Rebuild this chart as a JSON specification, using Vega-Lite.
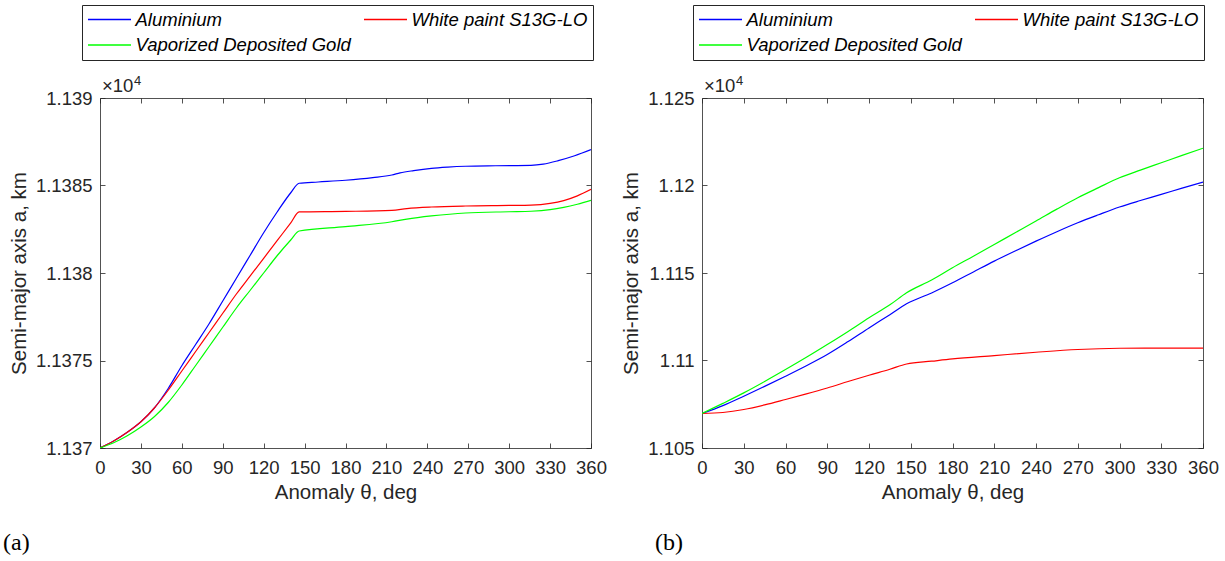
{
  "$schema": "https://vega.github.io/schema/vega-lite/v6.json",
  "autosize": {"type": "pad"},
  "padding": {"left": 3, "top": 4, "right": 5, "bottom": 5},
  "background": "white",
  "config": {
    "font": "Liberation Sans",
    "view": {"stroke": null},
    "axis": {
      "labelFont": "Liberation Sans", "labelFontSize": 18.5, "labelColor": "#262626", "labelOverlap": false, "labelFlush": false,
      "titleFont": "Liberation Sans", "titleFontSize": 20.5, "titleFontWeight": "normal", "titleColor": "#262626",
      "domainColor": "#262626", "tickColor": "#262626", "tickSize": -5, "grid": false,
      "domainWidth": 0.8, "tickWidth": 0.8
    },
    "legend": {
      "orient": "none", "columns": 2, "direction": "horizontal", "title": null,
      "symbolType": "stroke", "symbolSize": 1849, "symbolStrokeWidth": 1.3,
      "labelFont": "Liberation Sans", "labelFontSize": 18.5, "labelFontStyle": "italic", "labelColor": "black",
      "labelLimit": 400, "labelOffset": 3.5, "columnPadding": 12, "rowPadding": 6.5, "clipHeight": 19,
      "padding": 5, "strokeColor": "#262626", "fillColor": "white"
    }
  },
  "datasets": {
    "a": [
      {"theta": 0, "a": 1.137, "material": "Aluminium"},
      {"theta": 10, "a": 1.13704, "material": "Aluminium"},
      {"theta": 20, "a": 1.13709, "material": "Aluminium"},
      {"theta": 30, "a": 1.13715, "material": "Aluminium"},
      {"theta": 40, "a": 1.13723, "material": "Aluminium"},
      {"theta": 50, "a": 1.13734, "material": "Aluminium"},
      {"theta": 60, "a": 1.13747, "material": "Aluminium"},
      {"theta": 70, "a": 1.13759, "material": "Aluminium"},
      {"theta": 80, "a": 1.13771, "material": "Aluminium"},
      {"theta": 90, "a": 1.13784, "material": "Aluminium"},
      {"theta": 100, "a": 1.13797, "material": "Aluminium"},
      {"theta": 110, "a": 1.1381, "material": "Aluminium"},
      {"theta": 120, "a": 1.13823, "material": "Aluminium"},
      {"theta": 130, "a": 1.13835, "material": "Aluminium"},
      {"theta": 140, "a": 1.13846, "material": "Aluminium"},
      {"theta": 146, "a": 1.138513, "material": "Aluminium"},
      {"theta": 160, "a": 1.13852, "material": "Aluminium"},
      {"theta": 180, "a": 1.13853, "material": "Aluminium"},
      {"theta": 200, "a": 1.138545, "material": "Aluminium"},
      {"theta": 214, "a": 1.13856, "material": "Aluminium"},
      {"theta": 220, "a": 1.138572, "material": "Aluminium"},
      {"theta": 230, "a": 1.138585, "material": "Aluminium"},
      {"theta": 243, "a": 1.138598, "material": "Aluminium"},
      {"theta": 255, "a": 1.138605, "material": "Aluminium"},
      {"theta": 268, "a": 1.13861, "material": "Aluminium"},
      {"theta": 290, "a": 1.138613, "material": "Aluminium"},
      {"theta": 316, "a": 1.138615, "material": "Aluminium"},
      {"theta": 325, "a": 1.138622, "material": "Aluminium"},
      {"theta": 336, "a": 1.138642, "material": "Aluminium"},
      {"theta": 348, "a": 1.13867, "material": "Aluminium"},
      {"theta": 360, "a": 1.138705, "material": "Aluminium"},
      {"theta": 0, "a": 1.137, "material": "White paint S13G-LO"},
      {"theta": 10, "a": 1.13704, "material": "White paint S13G-LO"},
      {"theta": 20, "a": 1.13709, "material": "White paint S13G-LO"},
      {"theta": 30, "a": 1.13715, "material": "White paint S13G-LO"},
      {"theta": 40, "a": 1.13723, "material": "White paint S13G-LO"},
      {"theta": 50, "a": 1.13733, "material": "White paint S13G-LO"},
      {"theta": 60, "a": 1.13744, "material": "White paint S13G-LO"},
      {"theta": 70, "a": 1.13755, "material": "White paint S13G-LO"},
      {"theta": 80, "a": 1.13766, "material": "White paint S13G-LO"},
      {"theta": 90, "a": 1.13777, "material": "White paint S13G-LO"},
      {"theta": 100, "a": 1.13788, "material": "White paint S13G-LO"},
      {"theta": 110, "a": 1.137982, "material": "White paint S13G-LO"},
      {"theta": 120, "a": 1.138084, "material": "White paint S13G-LO"},
      {"theta": 130, "a": 1.138186, "material": "White paint S13G-LO"},
      {"theta": 140, "a": 1.138288, "material": "White paint S13G-LO"},
      {"theta": 146, "a": 1.138349, "material": "White paint S13G-LO"},
      {"theta": 180, "a": 1.138352, "material": "White paint S13G-LO"},
      {"theta": 214, "a": 1.138358, "material": "White paint S13G-LO"},
      {"theta": 225, "a": 1.138368, "material": "White paint S13G-LO"},
      {"theta": 243, "a": 1.138377, "material": "White paint S13G-LO"},
      {"theta": 268, "a": 1.138383, "material": "White paint S13G-LO"},
      {"theta": 300, "a": 1.138386, "material": "White paint S13G-LO"},
      {"theta": 316, "a": 1.138388, "material": "White paint S13G-LO"},
      {"theta": 330, "a": 1.138398, "material": "White paint S13G-LO"},
      {"theta": 340, "a": 1.138414, "material": "White paint S13G-LO"},
      {"theta": 350, "a": 1.138441, "material": "White paint S13G-LO"},
      {"theta": 360, "a": 1.138478, "material": "White paint S13G-LO"},
      {"theta": 0, "a": 1.137, "material": "Vaporized Deposited Gold"},
      {"theta": 10, "a": 1.13703, "material": "Vaporized Deposited Gold"},
      {"theta": 20, "a": 1.13707, "material": "Vaporized Deposited Gold"},
      {"theta": 30, "a": 1.13712, "material": "Vaporized Deposited Gold"},
      {"theta": 40, "a": 1.13718, "material": "Vaporized Deposited Gold"},
      {"theta": 50, "a": 1.13726, "material": "Vaporized Deposited Gold"},
      {"theta": 60, "a": 1.13736, "material": "Vaporized Deposited Gold"},
      {"theta": 70, "a": 1.13747, "material": "Vaporized Deposited Gold"},
      {"theta": 80, "a": 1.13758, "material": "Vaporized Deposited Gold"},
      {"theta": 90, "a": 1.13769, "material": "Vaporized Deposited Gold"},
      {"theta": 100, "a": 1.1378, "material": "Vaporized Deposited Gold"},
      {"theta": 110, "a": 1.1379, "material": "Vaporized Deposited Gold"},
      {"theta": 120, "a": 1.138, "material": "Vaporized Deposited Gold"},
      {"theta": 130, "a": 1.1381, "material": "Vaporized Deposited Gold"},
      {"theta": 140, "a": 1.13819, "material": "Vaporized Deposited Gold"},
      {"theta": 146, "a": 1.13824, "material": "Vaporized Deposited Gold"},
      {"theta": 180, "a": 1.138265, "material": "Vaporized Deposited Gold"},
      {"theta": 214, "a": 1.138293, "material": "Vaporized Deposited Gold"},
      {"theta": 225, "a": 1.138308, "material": "Vaporized Deposited Gold"},
      {"theta": 243, "a": 1.138326, "material": "Vaporized Deposited Gold"},
      {"theta": 268, "a": 1.138343, "material": "Vaporized Deposited Gold"},
      {"theta": 300, "a": 1.13835, "material": "Vaporized Deposited Gold"},
      {"theta": 316, "a": 1.138353, "material": "Vaporized Deposited Gold"},
      {"theta": 330, "a": 1.138362, "material": "Vaporized Deposited Gold"},
      {"theta": 340, "a": 1.138375, "material": "Vaporized Deposited Gold"},
      {"theta": 350, "a": 1.138393, "material": "Vaporized Deposited Gold"},
      {"theta": 360, "a": 1.138415, "material": "Vaporized Deposited Gold"}
    ],
    "b": [
      {"theta": 0, "a": 1.10697, "material": "Aluminium"},
      {"theta": 15, "a": 1.10742, "material": "Aluminium"},
      {"theta": 30, "a": 1.10796, "material": "Aluminium"},
      {"theta": 45, "a": 1.10852, "material": "Aluminium"},
      {"theta": 60, "a": 1.1091, "material": "Aluminium"},
      {"theta": 75, "a": 1.1097, "material": "Aluminium"},
      {"theta": 90, "a": 1.11034, "material": "Aluminium"},
      {"theta": 105, "a": 1.11108, "material": "Aluminium"},
      {"theta": 120, "a": 1.11186, "material": "Aluminium"},
      {"theta": 135, "a": 1.11262, "material": "Aluminium"},
      {"theta": 147, "a": 1.11324, "material": "Aluminium"},
      {"theta": 165, "a": 1.11386, "material": "Aluminium"},
      {"theta": 180, "a": 1.11444, "material": "Aluminium"},
      {"theta": 195, "a": 1.11506, "material": "Aluminium"},
      {"theta": 210, "a": 1.11568, "material": "Aluminium"},
      {"theta": 225, "a": 1.11626, "material": "Aluminium"},
      {"theta": 240, "a": 1.11682, "material": "Aluminium"},
      {"theta": 255, "a": 1.11736, "material": "Aluminium"},
      {"theta": 270, "a": 1.11787, "material": "Aluminium"},
      {"theta": 285, "a": 1.11833, "material": "Aluminium"},
      {"theta": 300, "a": 1.11877, "material": "Aluminium"},
      {"theta": 315, "a": 1.11914, "material": "Aluminium"},
      {"theta": 330, "a": 1.11949, "material": "Aluminium"},
      {"theta": 345, "a": 1.11985, "material": "Aluminium"},
      {"theta": 360, "a": 1.1202, "material": "Aluminium"},
      {"theta": 0, "a": 1.10697, "material": "White paint S13G-LO"},
      {"theta": 15, "a": 1.10703, "material": "White paint S13G-LO"},
      {"theta": 30, "a": 1.1072, "material": "White paint S13G-LO"},
      {"theta": 45, "a": 1.10746, "material": "White paint S13G-LO"},
      {"theta": 60, "a": 1.10777, "material": "White paint S13G-LO"},
      {"theta": 75, "a": 1.10809, "material": "White paint S13G-LO"},
      {"theta": 90, "a": 1.10843, "material": "White paint S13G-LO"},
      {"theta": 105, "a": 1.1088, "material": "White paint S13G-LO"},
      {"theta": 120, "a": 1.10916, "material": "White paint S13G-LO"},
      {"theta": 135, "a": 1.1095, "material": "White paint S13G-LO"},
      {"theta": 147, "a": 1.1098, "material": "White paint S13G-LO"},
      {"theta": 165, "a": 1.10996, "material": "White paint S13G-LO"},
      {"theta": 180, "a": 1.11009, "material": "White paint S13G-LO"},
      {"theta": 210, "a": 1.11028, "material": "White paint S13G-LO"},
      {"theta": 240, "a": 1.11047, "material": "White paint S13G-LO"},
      {"theta": 270, "a": 1.11063, "material": "White paint S13G-LO"},
      {"theta": 300, "a": 1.1107, "material": "White paint S13G-LO"},
      {"theta": 330, "a": 1.11071, "material": "White paint S13G-LO"},
      {"theta": 360, "a": 1.11071, "material": "White paint S13G-LO"},
      {"theta": 0, "a": 1.10697, "material": "Vaporized Deposited Gold"},
      {"theta": 15, "a": 1.10755, "material": "Vaporized Deposited Gold"},
      {"theta": 30, "a": 1.10815, "material": "Vaporized Deposited Gold"},
      {"theta": 45, "a": 1.1088, "material": "Vaporized Deposited Gold"},
      {"theta": 60, "a": 1.10948, "material": "Vaporized Deposited Gold"},
      {"theta": 75, "a": 1.11018, "material": "Vaporized Deposited Gold"},
      {"theta": 90, "a": 1.11091, "material": "Vaporized Deposited Gold"},
      {"theta": 105, "a": 1.11166, "material": "Vaporized Deposited Gold"},
      {"theta": 120, "a": 1.11244, "material": "Vaporized Deposited Gold"},
      {"theta": 135, "a": 1.11318, "material": "Vaporized Deposited Gold"},
      {"theta": 147, "a": 1.11387, "material": "Vaporized Deposited Gold"},
      {"theta": 165, "a": 1.1146, "material": "Vaporized Deposited Gold"},
      {"theta": 180, "a": 1.1153, "material": "Vaporized Deposited Gold"},
      {"theta": 195, "a": 1.11596, "material": "Vaporized Deposited Gold"},
      {"theta": 210, "a": 1.11663, "material": "Vaporized Deposited Gold"},
      {"theta": 225, "a": 1.1173, "material": "Vaporized Deposited Gold"},
      {"theta": 240, "a": 1.11797, "material": "Vaporized Deposited Gold"},
      {"theta": 255, "a": 1.11865, "material": "Vaporized Deposited Gold"},
      {"theta": 270, "a": 1.1193, "material": "Vaporized Deposited Gold"},
      {"theta": 285, "a": 1.11988, "material": "Vaporized Deposited Gold"},
      {"theta": 300, "a": 1.12044, "material": "Vaporized Deposited Gold"},
      {"theta": 315, "a": 1.12088, "material": "Vaporized Deposited Gold"},
      {"theta": 330, "a": 1.1213, "material": "Vaporized Deposited Gold"},
      {"theta": 345, "a": 1.12172, "material": "Vaporized Deposited Gold"},
      {"theta": 360, "a": 1.12213, "material": "Vaporized Deposited Gold"}
    ],
    "expA": [{"theta": 0, "a": 1.139, "base": "×10", "pow": "4"}],
    "expB": [{"theta": 0, "a": 1.125, "base": "×10", "pow": "4"}]
  },
  "spacing": 111,
  "bounds": "flush",
  "resolve": {"scale": {"color": "independent"}, "legend": {"color": "independent"}},
  "hconcat": [
    {
      "width": 491, "height": 350,
      "title": {"text": "(a)", "orient": "bottom", "anchor": "start", "frame": "group", "dx": -97, "offset": 28, "font": "Liberation Serif", "fontSize": 24, "fontWeight": "normal", "color": "black"},
      "resolve": {"scale": {"x": "independent", "y": "independent"}, "axis": {"x": "independent", "y": "independent"}},
      "layer": [
        {
          "data": {"name": "a"},
          "mark": {"type": "line", "strokeWidth": 1.2, "clip": true, "interpolate": "monotone"},
          "encoding": {
            "x": {"field": "theta", "type": "quantitative", "scale": {"domain": [0, 360], "nice": false},
                  "axis": {"orient": "bottom", "values": [0, 30, 60, 90, 120, 150, 180, 210, 240, 270, 300, 330, 360], "title": "Anomaly θ, deg", "labelPadding": 15, "titlePadding": 6}},
            "y": {"field": "a", "type": "quantitative", "scale": {"domain": [1.137, 1.139], "nice": false, "zero": false},
                  "axis": {"orient": "left", "values": [1.137, 1.1375, 1.138, 1.1385, 1.139], "format": ".4~f", "title": "Semi-major axis a, km", "labelPadding": 13, "titlePadding": 6}},
            "color": {"field": "material", "type": "nominal",
                      "scale": {"domain": ["Aluminium", "White paint S13G-LO", "Vaporized Deposited Gold"], "range": ["#0000ff", "#ff0000", "#00ff00"]},
                      "legend": {"legendX": -18, "legendY": -93}}
          }
        },
        {
          "data": {"name": "expA"},
          "layer": [
            {
              "mark": {"type": "text", "align": "left", "baseline": "alphabetic", "dx": 2, "dy": -6, "fontSize": 18.5, "color": "#262626", "font": "Liberation Sans"},
              "encoding": {"text": {"field": "base"}}
            },
            {
              "mark": {"type": "text", "align": "left", "baseline": "alphabetic", "dx": 34, "dy": -13, "fontSize": 13, "color": "#262626", "font": "Liberation Sans"},
              "encoding": {"text": {"field": "pow"}}
            }
          ],
          "encoding": {
            "x": {"field": "theta", "type": "quantitative", "scale": {"domain": [0, 360], "nice": false},
                  "axis": {"orient": "top", "labels": false, "title": null, "values": [0, 30, 60, 90, 120, 150, 180, 210, 240, 270, 300, 330, 360]}},
            "y": {"field": "a", "type": "quantitative", "scale": {"domain": [1.137, 1.139], "nice": false, "zero": false},
                  "axis": {"orient": "right", "labels": false, "title": null, "values": [1.137, 1.1375, 1.138, 1.1385, 1.139]}}
          }
        }
      ]
    },
    {
      "width": 501, "height": 350,
      "title": {"text": "(b)", "orient": "bottom", "anchor": "start", "frame": "group", "dx": -47, "offset": 28, "font": "Liberation Serif", "fontSize": 24, "fontWeight": "normal", "color": "black"},
      "resolve": {"scale": {"x": "independent", "y": "independent"}, "axis": {"x": "independent", "y": "independent"}},
      "layer": [
        {
          "data": {"name": "b"},
          "mark": {"type": "line", "strokeWidth": 1.2, "clip": true, "interpolate": "monotone"},
          "encoding": {
            "x": {"field": "theta", "type": "quantitative", "scale": {"domain": [0, 360], "nice": false},
                  "axis": {"orient": "bottom", "values": [0, 30, 60, 90, 120, 150, 180, 210, 240, 270, 300, 330, 360], "title": "Anomaly θ, deg", "labelPadding": 15, "titlePadding": 6}},
            "y": {"field": "a", "type": "quantitative", "scale": {"domain": [1.105, 1.125], "nice": false, "zero": false},
                  "axis": {"orient": "left", "values": [1.105, 1.11, 1.115, 1.12, 1.125], "format": ".4~f", "title": "Semi-major axis a, km", "labelPadding": 13, "titlePadding": 6}},
            "color": {"field": "material", "type": "nominal",
                      "scale": {"domain": ["Aluminium", "White paint S13G-LO", "Vaporized Deposited Gold"], "range": ["#0000ff", "#ff0000", "#00ff00"]},
                      "legend": {"legendX": -9, "legendY": -93}}
          }
        },
        {
          "data": {"name": "expB"},
          "layer": [
            {
              "mark": {"type": "text", "align": "left", "baseline": "alphabetic", "dx": 2, "dy": -6, "fontSize": 18.5, "color": "#262626", "font": "Liberation Sans"},
              "encoding": {"text": {"field": "base"}}
            },
            {
              "mark": {"type": "text", "align": "left", "baseline": "alphabetic", "dx": 34, "dy": -13, "fontSize": 13, "color": "#262626", "font": "Liberation Sans"},
              "encoding": {"text": {"field": "pow"}}
            }
          ],
          "encoding": {
            "x": {"field": "theta", "type": "quantitative", "scale": {"domain": [0, 360], "nice": false},
                  "axis": {"orient": "top", "labels": false, "title": null, "values": [0, 30, 60, 90, 120, 150, 180, 210, 240, 270, 300, 330, 360]}},
            "y": {"field": "a", "type": "quantitative", "scale": {"domain": [1.105, 1.125], "nice": false, "zero": false},
                  "axis": {"orient": "right", "labels": false, "title": null, "values": [1.105, 1.11, 1.115, 1.12, 1.125]}}
          }
        }
      ]
    }
  ]
}
